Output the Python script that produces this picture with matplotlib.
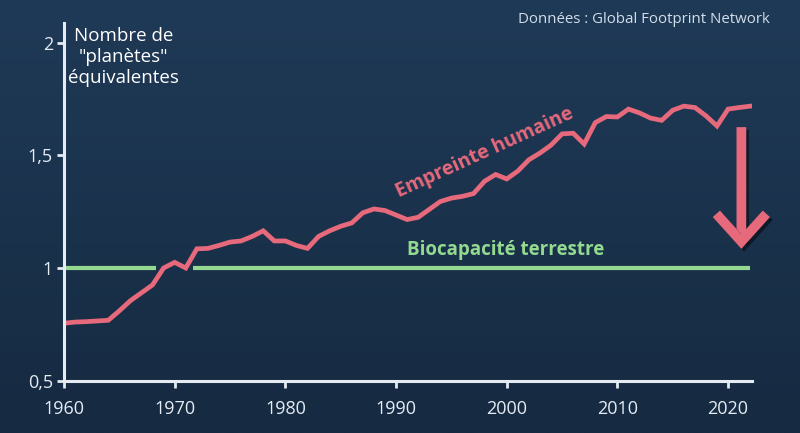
import numpy as np
import matplotlib.pyplot as plt
import matplotlib.patheffects as pe
from matplotlib.colors import LinearSegmentedColormap

plt.rcParams['font.family'] = ['Open Sans', 'DejaVu Sans']

years = list(range(1960, 2023))
footprint = [0.755, 0.760, 0.762, 0.765, 0.768, 0.810, 0.855, 0.890, 0.925, 1.000,
             1.025, 1.000, 1.085, 1.087, 1.100, 1.115, 1.120, 1.140, 1.165, 1.120,
             1.120, 1.100, 1.087, 1.140, 1.165, 1.185, 1.200, 1.245, 1.262, 1.255,
             1.235, 1.215, 1.225, 1.260, 1.295, 1.310, 1.318, 1.330, 1.385, 1.415,
             1.395, 1.430, 1.480, 1.510, 1.545, 1.595, 1.598, 1.550, 1.645, 1.672,
             1.670, 1.705, 1.688, 1.665, 1.655, 1.700, 1.718, 1.712, 1.675, 1.630,
             1.705, 1.712, 1.718]

# green reference line, split where the red line crosses it
bio_left = [1960, 1968.3]
bio_right = [1971.7, 2022]
bio_level = 1.0

yticks = [0.5, 1, 1.5, 2]
ytick_labels = ["0,5", "1", "1,5", "2"]
xticks = [1960, 1970, 1980, 1990, 2000, 2010, 2020]

red = "#e6697c"
green = "#93d98f"
axis_col = "#e4ebf3"

fig = plt.figure(figsize=(8, 4.33), dpi=100)

# background gradient
bg = fig.add_axes([0, 0, 1, 1], zorder=-10)
grad = np.linspace(0, 1, 256).reshape(-1, 1)
cmap = LinearSegmentedColormap.from_list("bg", ["#1f3a57", "#162a41"])
bg.imshow(grad, aspect="auto", cmap=cmap, extent=[0, 1, 0, 1])
bg.axis("off")

ax = fig.add_axes([0.08, 0.1208, 0.86, 0.8261])
ax.set_facecolor("none")

ax.plot(bio_left, [bio_level, bio_level], color=green, lw=3, solid_capstyle="butt")
ax.plot(bio_right, [bio_level, bio_level], color=green, lw=3, solid_capstyle="butt")
ax.plot(years, footprint, color=red, lw=3.4, solid_joinstyle="miter")

ax.text(1998.0, 1.51, "Empreinte humaine", color=red, fontsize=14, fontweight="bold",
        rotation=24.5, ha="center", va="center", rotation_mode="anchor")
ax.text(1999.9, 1.078, "Biocapacité terrestre", color=green, fontsize=13.5,
        fontweight="bold", ha="center", va="center")

# chevron-style arrow
ax.annotate("", xy=(2021.2, 1.085), xytext=(2021.2, 1.625),
            arrowprops=dict(arrowstyle="->,head_length=2.0,head_width=1.8",
                            color=red, lw=7, capstyle="butt", joinstyle="miter",
                            shrinkA=0, shrinkB=0,
                            path_effects=[pe.SimpleLineShadow(offset=(2, -2), alpha=0.45),
                                          pe.Normal()]))

ax.set_xlim(1960, 2022.16)
ax.set_ylim(0.5, 2.087)
ax.set_xticks(xticks)
ax.set_yticks(yticks)
ax.set_yticklabels(ytick_labels)

for s in ["top", "right"]:
    ax.spines[s].set_visible(False)
for s in ["left", "bottom"]:
    ax.spines[s].set_color(axis_col)
    ax.spines[s].set_linewidth(2.2)
ax.tick_params(colors=axis_col, width=2, length=5, labelsize=13)
ax.tick_params(axis="x", pad=9)
ax.tick_params(axis="y", pad=3)

ax.text(0.087, 0.988, "Nombre de\n\"planètes\"\néquivalentes", transform=ax.transAxes,
        color="white", fontsize=13.5, ha="center", va="top", linespacing=1.2)

fig.text(0.9625, 0.955, "Données : Global Footprint Network", color="#d3deea",
         fontsize=10.8, ha="right", va="center")

fig.savefig("out.png", dpi=100)
